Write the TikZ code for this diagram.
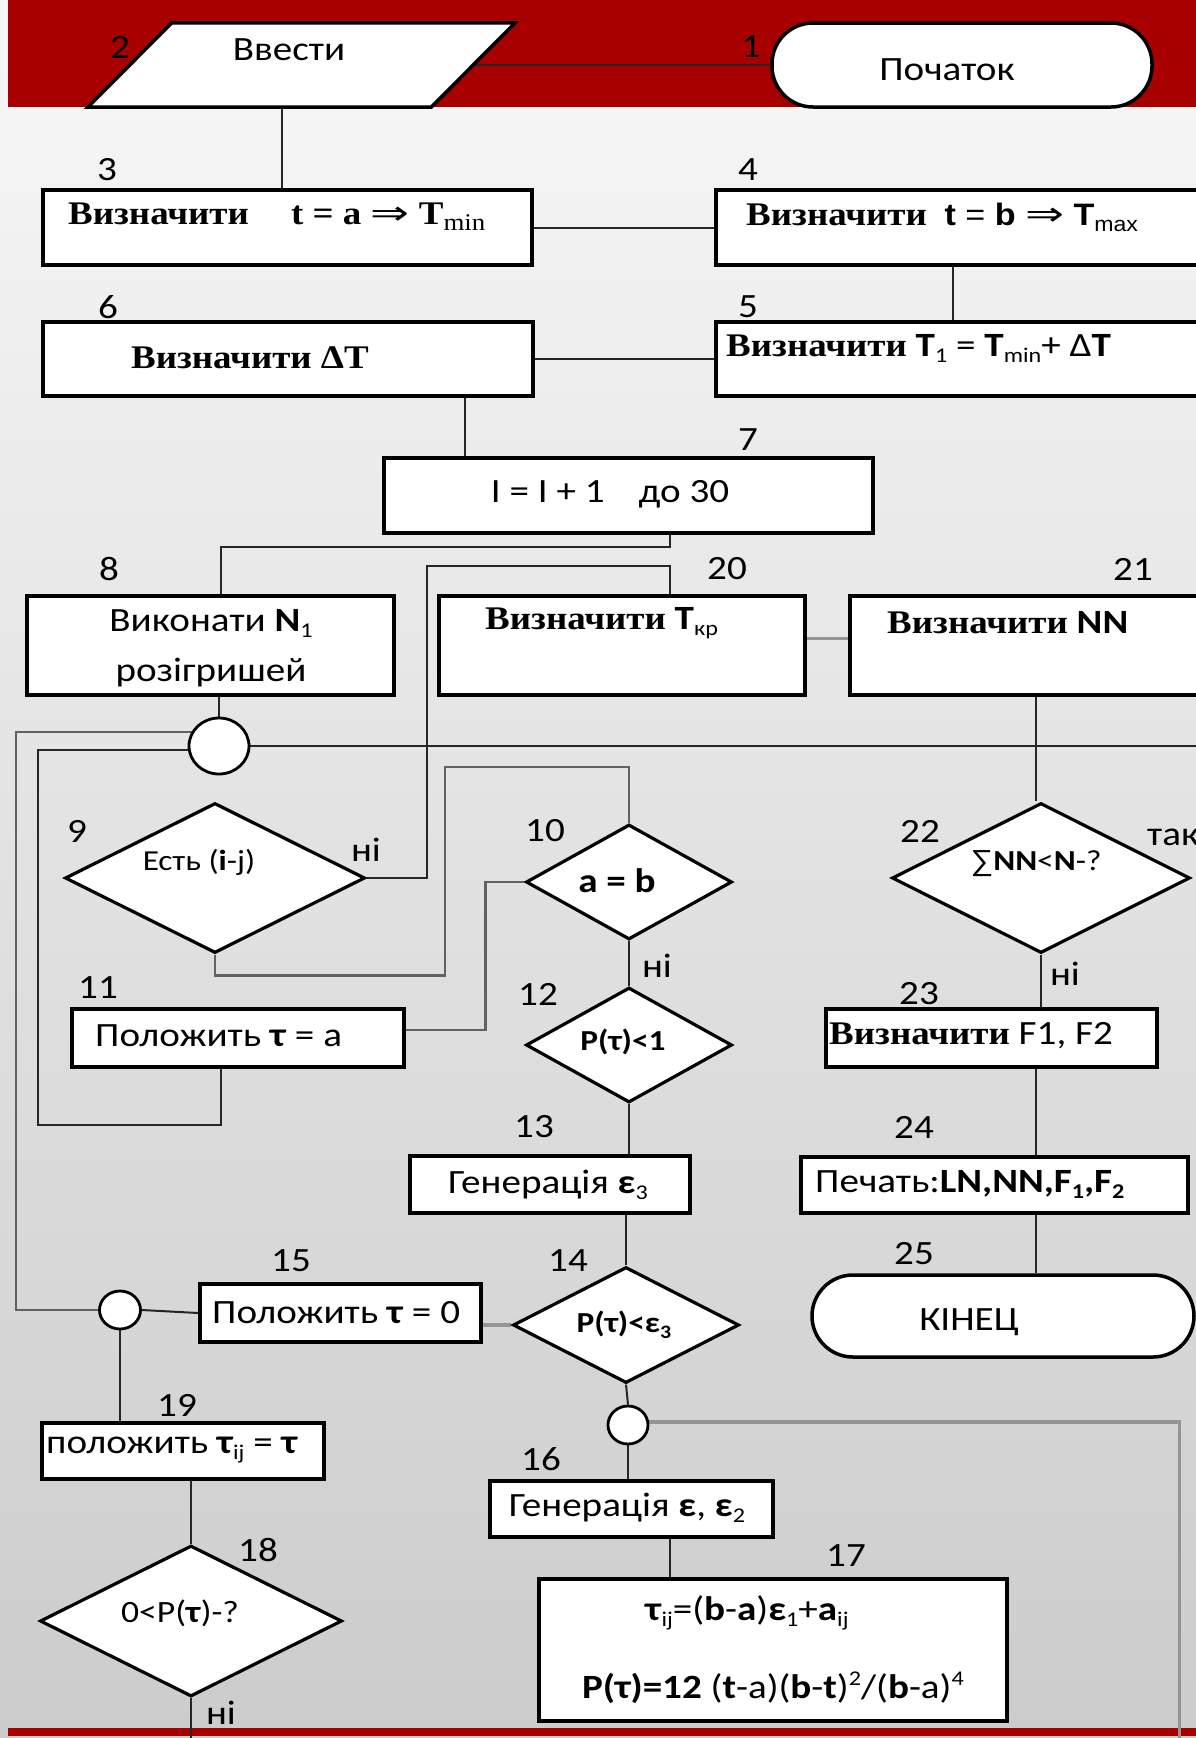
\documentclass[tikz,border=0pt]{standalone}
\usepackage{fontspec}
\setmainfont{Carlito}[FakeStretch=1.15]
\newfontfamily\tms{Liberation Serif}[FakeStretch=1.12]
\newfontfamily\dvs{DejaVu Sans}
\newfontfamily\ari{Liberation Sans}[FakeStretch=1.1]
\usetikzlibrary{shapes.geometric,calc}
\definecolor{bandred}{RGB}{168,0,0}
\newcommand{\mysub}[2][21]{\raisebox{-6pt}{\fontsize{#1}{#1}\selectfont #2}}
\newcommand{\mysup}[2][21]{\raisebox{13pt}{\fontsize{#1}{#1}\selectfont #2}}
\newcommand{\bigimp}{{\dvs\mdseries\fontsize{30}{30}\selectfont\scalebox{1.55}[1.1]{⇒}}}
\pgfdeclarelayer{back}
\pgfdeclarelayer{bg}
\pgfsetlayers{back,bg,main}
\begin{document}
\begin{tikzpicture}[x=1pt,y=-1pt,
  box/.style={draw=black,line width=3.5pt,fill=white,rectangle,inner sep=0pt},
  dia/.style={draw=black,line width=3.2pt,fill=white,diamond,inner sep=0pt},
  circ/.style={draw=black,line width=2.8pt,fill=white,ellipse,inner sep=0pt},
  stad/.style={draw=black,line width=3.5pt,fill=white,rectangle,rounded corners=41pt,inner sep=0pt},
  ln/.style={line width=2pt,draw=black!85},
  mln/.style={line width=2.6pt,draw=black!62},
  gln/.style={line width=3.6pt,draw=black!42},
  num/.style={font=\fontsize{34}{34}\selectfont,inner sep=0pt},
  txt/.style={font=\fontsize{34}{40}\selectfont,inner sep=0pt},
  stxt/.style={font=\fontsize{29}{34}\selectfont,inner sep=0pt}]
\useasboundingbox (0,0) rectangle (1196,1738);
\begin{pgfonlayer}{back}
  \shade[top color=black!3,bottom color=black!20] (0,0) rectangle (1196,1738);
  \fill[bandred] (8,0) rectangle (1196,107);
  \fill[bandred] (8,1728) rectangle (1196,1736);
\end{pgfonlayer}

% shapes
\node[stad,minimum width=380,minimum height=84] (s1) at (962,65) {};
\node[inner sep=0pt,minimum width=427,minimum height=84] (s2) at (301.5,65) {};
\draw[line width=3.5pt,fill=white] ([xshift=84]s2.north west) -- (s2.north east) -- ([xshift=-84]s2.south east) -- (s2.south west) -- cycle;
\node[box,minimum width=489,minimum height=75] (s3) at (287.5,227.5) {};
\node[box,minimum width=514,minimum height=75] (s4) at (973,227.5) {};
\node[box,minimum width=514,minimum height=74] (s5) at (973,359) {};
\node[box,minimum width=490,minimum height=74] (s6) at (288,359) {};
\node[box,minimum width=489,minimum height=75] (s7) at (628.5,495.5) {};
\node[box,minimum width=367,minimum height=99] (s8) at (210.5,645.5) {};
\node[box,minimum width=366,minimum height=99] (s20) at (622,645.5) {};
\node[box,minimum width=380,minimum height=99] (s21) at (1040,645.5) {};
\node[circ,minimum width=60,minimum height=56] (c8) at (219,746) {};
\node[dia,minimum width=300,minimum height=150] (s9) at (215,878) {};
\node[dia,minimum width=206,minimum height=115] (s10) at (629,882) {};
\node[box,minimum width=332,minimum height=58] (s11) at (238,1038) {};
\node[dia,minimum width=206,minimum height=115] (s12) at (629,1045) {};
\node[box,minimum width=280,minimum height=57] (s13) at (550,1184.5) {};
\node[dia,minimum width=226,minimum height=116] (s14) at (626,1325) {};
\node[box,minimum width=281,minimum height=58] (s15) at (340.5,1313) {};
\node[circ,minimum width=41,minimum height=38] (c15) at (120,1310) {};
\node[box,minimum width=282,minimum height=56] (s19) at (183,1451) {};
\node[dia,minimum width=302,minimum height=151] (s18) at (191,1621) {};
\node[circ,minimum width=40,minimum height=38] (c16) at (628,1425) {};
\node[box,minimum width=283,minimum height=56] (s16) at (631.5,1509) {};
\node[box,minimum width=468,minimum height=142] (s17) at (773,1650) {};
\node[dia,minimum width=298,minimum height=150] (s22) at (1041,878) {};
\node[box,minimum width=331,minimum height=58] (s23) at (991.5,1038) {};
\node[box,minimum width=387,minimum height=56] (s24) at (994.5,1185) {};
\node[stad,minimum width=382,minimum height=82] (s25) at (1003,1316) {};

% connectors
\begin{pgfonlayer}{bg}
  \draw[ln] (s1.west) -- (s1.west -| s2.center);
  \draw[ln] ([xshift=-19.5]s2.center) -- ([xshift=-19.5]s2.center |- s3.north);
  \draw[ln] (s3.east) -- (s4.west);
  \draw[ln] ([xshift=-20]s4.south) -- ([xshift=-20]s5.north);
  \draw[ln] (s6.east) -- (s5.west);
  \draw[ln] ([xshift=177]s6.south) -- ([xshift=177]s6.south |- s7.north);
  \draw[ln] ([xshift=41.5]s7.south) -- ++(0,12) -| ([xshift=10.5]s8.north);
  \draw[ln] (s9.east) -- ++(60,0) |- ($(s7.south)+(41.5,31)$) -- ([xshift=48]s20.north);
  \draw[ln] (c8.north) -- (c8.north |- s8.south);
  \draw[ln] (c8.east) -- ++(1000,0);
  \draw[mln] ([yshift=14]c8.center) -| ($(c15.west)+(-82,0)$) -- (c15.west);
  \draw[ln] ([yshift=-4]c8.center) -| ($(s11.south)+(-200,56)$) -| ([xshift=-17]s11.south);
  \draw[mln] (s9.south) -- ++(0,21) -| ($(s10.north)+(-184,-56)$) -| (s10.north);
  \draw[mln] (s10.west) -- ++(-39,0) |- ([yshift=8]s11.east);
  \draw[ln] (s10.south) -- (s12.north);
  \draw[ln] (s12.south) -- (s12.south |- s13.north);
  \draw[ln] (s14.north) -- (s14.north |- s13.south);
  \draw[gln] (s14.west) -- (s14.west -| s15.east);
  \draw[ln] (s15.west) -- (c15.east);
  \draw[ln] (c15.south) -- (c15.south |- s19.north);
  \draw[ln] (s18.north) -- (s18.north |- s19.south);
  \draw[ln] (s18.south) -- ++(0,60);
  \draw[ln] (s14.south) -- (c16.north);
  \draw[gln] ([yshift=3]c16.east) -- ++(530,0) -- ++(0,330);
  \draw[ln] (c16.south) -- (c16.south |- s16.north);
  \draw[ln] ([xshift=38.5]s16.south) -- ([xshift=38.5]s16.south |- s17.north);
  \draw[gln] ([yshift=7]s20.east) -- ([yshift=7]s20.east -| s21.west);
  \draw[ln] ([xshift=-4]s21.south) -- ([xshift=-4]s21.south |- s22.north);
  \draw[ln] (s22.south) -- (s22.south |- s23.north);
  \draw[ln] ([xshift=-5]s23.south -| s22.south) -- ([xshift=-5]s24.north -| s22.south);
  \draw[ln] ([xshift=-5]s24.south -| s22.south) -- ([xshift=-5]s25.north -| s22.south);
\end{pgfonlayer}

% numbers
\node[num] (n1) at (751,47) {1};
\node[num] (n2) at (120,47) {2};
\node[num] (n3) at (107,170) {3};
\node[num] (n4) at (748,170) {4};
\node[num] (n5) at (748,307) {5};
\node[num] (n6) at (108,307) {6};
\node[num] (n7) at (748,440) {7};
\node[num] (n8) at (109,569) {8};
\node[num] (n20) at (727,569) {20};
\node[num] (n21) at (1133,569) {21};
\node[num] (n9) at (77,831) {9};
\node[num] (n10) at (545,831) {10};
\node[num] (n22) at (920,831) {22};
\node[num] (n11) at (98,988) {11};
\node[num] (n12) at (538,994) {12};
\node[num] (n23) at (919,994) {23};
\node[num] (n13) at (534,1127) {13};
\node[num] (n24) at (914,1127) {24};
\node[num] (n15) at (291,1261) {15};
\node[num] (n14) at (568,1261) {14};
\node[num] (n25) at (914,1254) {25};
\node[num] (n19) at (177,1405) {19};
\node[num] (n16) at (541,1459) {16};
\node[num] (n18) at (258,1550) {18};
\node[num] (n17) at (846,1556) {17};
\node[num] (no9) at (366,850) {ні};
\node[num] (no10) at (657,966) {ні};
\node[num] (no22) at (1065,974) {ні};
\node[num] (no18) at (221,1713) {ні};
\node[num,anchor=west] (yes22) at (1147,837) {так};

% texts
\node[txt] (t1) at (947,70) {Початок};
\node[txt] (t2) at (289,50) {Ввести};
\node[txt,anchor=west] (t3) at (68,217) {{\tms\bfseries\fontsize{33}{33}\selectfont Визначити\quad\ t = a \bigimp{} T\mysub[24]{\mdseries min}}};
\node[txt,anchor=west] (t4) at (746,217) {{\tms\bfseries\fontsize{33}{33}\selectfont Визначити}\ \ {\ari\bfseries\fontsize{31}{31}\selectfont t {\mdseries =} b \bigimp{} T\mysub{\mdseries max}}};
\node[txt,anchor=west] (t5) at (726,348) {{\tms\bfseries\fontsize{33}{33}\selectfont Визначити} \textbf{T}\mysub{1} = \textbf{T}\mysub{min}+ Δ\textbf{T}};
\node[txt] (t6) at (250,358) {{\tms\bfseries\fontsize{33}{33}\selectfont Визначити ΔT}};
\node[txt] (t7) at (610,494) {I = I + 1\quad до 30};
\node[txt] (t8a) at (211,623) {Виконати \textbf{N}\mysub{1}};
\node[txt] (t8b) at (211,673) {розігришей};
\node[txt,anchor=west] (t20) at (485,623) {{\tms\bfseries\fontsize{33}{33}\selectfont Визначити} \textbf{T}\mysub{кр}};
\node[txt,anchor=west] (t21) at (887,623) {{\tms\bfseries\fontsize{33}{33}\selectfont Визначити} \textbf{NN}};
\node[stxt] (t9) at (199,862) {Есть (\textbf{i}-j)};
\node[txt] (t10) at (617,881) {\textbf{a = b}};
\node[txt,anchor=west] (t11) at (95,1036) {Положить \textbf{τ} = a};
\node[stxt] (t12) at (623,1042) {\textbf{P(τ)<1}};
\node[txt,anchor=west] (t13) at (448,1185) {Генерація \textbf{ε}\mysub{3}};
\node[stxt] (t14) at (624,1325) {\textbf{P(τ)<ε\mysub[19]{3}}};
\node[txt,anchor=west] (t15) at (212,1313) {Положить \textbf{τ} = 0};
\node[txt,anchor=west] (t19) at (46,1450) {положить \textbf{τ}\mysub{ij} = \textbf{τ}};
\node[stxt,font=\fontsize{31}{34}\selectfont] (t18) at (180,1613) {0<P(\textbf{τ})-?};
\node[txt] (t16) at (627,1508) {Генерація \textbf{ε}, \textbf{ε}\mysub{2}};
\node[txt] (t17a) at (747,1613) {\textbf{τ}\mysub{ij}=(\textbf{b}-\textbf{a})\textbf{ε}\mysub{1}+\textbf{a}\mysub{ij}};
\node[txt] (t17b) at (773,1688) {\textbf{P(τ)=12} (\textbf{t}-a)(\textbf{b}-\textbf{t})\mysup{2}/(\textbf{b}-a)\mysup{4}};
\node[stxt] (t22) at (1036,864) {{\ari ∑}\textbf{NN}<\textbf{N}-?};
\node[txt,anchor=west] (t23) at (829,1036) {{\tms\bfseries\fontsize{33}{33}\selectfont Визначити} F1, F2};
\node[txt,anchor=west] (t24) at (815,1184) {Печать:\textbf{LN,NN,F\mysub{1},F\mysub{2}}};
\node[txt] (t25) at (969,1322) {КІНЕЦ};
\end{tikzpicture}
\end{document}
